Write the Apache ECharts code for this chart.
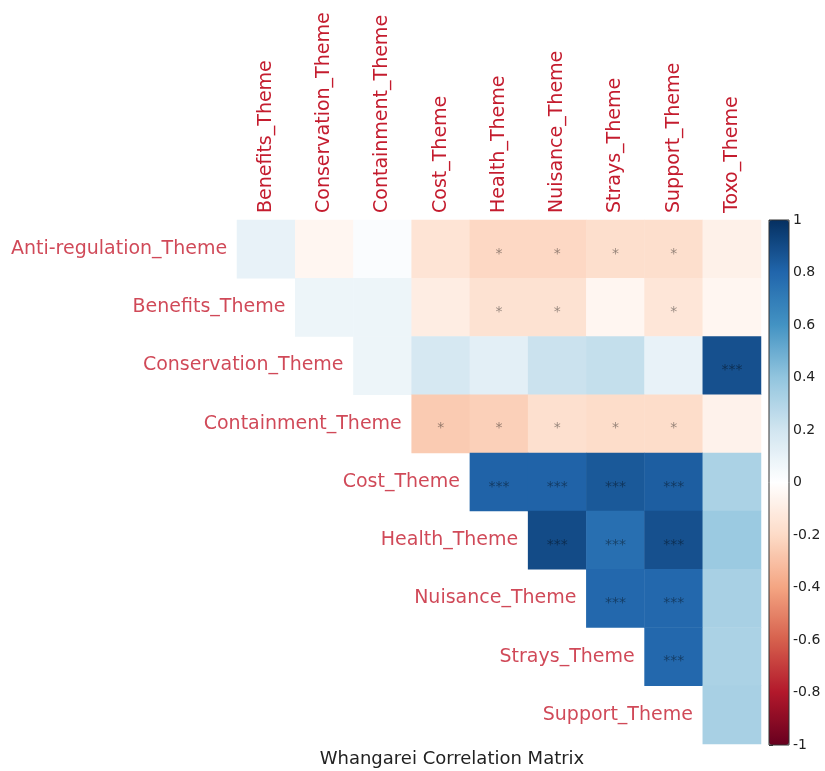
<!DOCTYPE html>
<html>
<head>
<meta charset="utf-8">
<title>Whangarei Correlation Matrix</title>
<script src="https://cdn.jsdelivr.net/npm/echarts@6/dist/echarts.min.js"></script>
<style>
  html, body { margin: 0; padding: 0; background: #fff; }
  #chart { width: 825px; height: 771px; }
</style>
</head>
<body>
<div id="chart"></div>
<script>
// Column variables (upper triangle, diagonal omitted)
const colNames = ['Benefits_Theme', 'Conservation_Theme', 'Containment_Theme', 'Cost_Theme',
  'Health_Theme', 'Nuisance_Theme', 'Strays_Theme', 'Support_Theme', 'Toxo_Theme'];
// Row variables
const rowNames = ['Anti-regulation_Theme', 'Benefits_Theme', 'Conservation_Theme', 'Containment_Theme',
  'Cost_Theme', 'Health_Theme', 'Nuisance_Theme', 'Strays_Theme', 'Support_Theme'];

// Correlations per row, starting at the row's own column position (row i starts at column i)
const corrAntiRegulation = [0.10, -0.05, 0.02, -0.15, -0.21, -0.21, -0.18, -0.18, -0.08];
const corrBenefits       = [0.08, 0.08, -0.10, -0.16, -0.16, -0.05, -0.14, -0.05];
const corrConservation   = [0.08, 0.18, 0.12, 0.22, 0.24, 0.10, 0.88];
const corrContainment    = [-0.26, -0.24, -0.17, -0.19, -0.19, -0.07];
const corrCost           = [0.81, 0.81, 0.85, 0.83, 0.32];
const corrHealth         = [0.90, 0.76, 0.88, 0.37];
const corrNuisance       = [0.79, 0.79, 0.33];
const corrStrays         = [0.79, 0.32];
const corrSupport        = [0.33];

// Significance stars, same layout as the correlations
const sigAntiRegulation = ['', '', '', '', '*', '*', '*', '*', ''];
const sigBenefits       = ['', '', '', '*', '*', '', '*', ''];
const sigConservation   = ['', '', '', '', '', '', '***'];
const sigContainment    = ['*', '*', '*', '*', '*', ''];
const sigCost           = ['***', '***', '***', '***', ''];
const sigHealth         = ['***', '***', '***', ''];
const sigNuisance       = ['***', '***', ''];
const sigStrays         = ['***', ''];
const sigSupport        = [''];

// Colour bar tick labels
const barTicks = [-1, -0.8, -0.6, -0.4, -0.2, 0, 0.2, 0.4, 0.6, 0.8, 1];

const corrRows = [corrAntiRegulation, corrBenefits, corrConservation, corrContainment,
  corrCost, corrHealth, corrNuisance, corrStrays, corrSupport];
const sigRows = [sigAntiRegulation, sigBenefits, sigConservation, sigContainment,
  sigCost, sigHealth, sigNuisance, sigStrays, sigSupport];

const cells = [];
corrRows.forEach(function (vals, r) {
  vals.forEach(function (v, k) {
    cells.push([r + k, r, v, sigRows[r][k]]);
  });
});
const rowLabelPoints = rowNames.map(function (name, r) { return [r, r, name]; });

const FONT = 'DejaVu Sans';
const LABEL_RED = '#c41c2e';
const RDBU = ['#67001F', '#B2182B', '#D6604D', '#F4A582', '#FDDBC7', '#FFFFFF',
  '#D1E5F0', '#92C5DE', '#4393C3', '#2166AC', '#053061'];

const chart = echarts.init(document.getElementById('chart'), null, { renderer: 'canvas' });
chart.setOption({
  backgroundColor: '#ffffff',
  animation: false,
  title: {
    text: 'Whangarei Correlation Matrix',
    left: 447, top: 745, textAlign: 'center',
    textStyle: { fontFamily: FONT, fontSize: 18, fontWeight: 'normal', color: '#222' }
  },
  grid: [
    { left: 237, top: 220, width: 524, height: 524, containLabel: false },
    { left: 769, top: 220, width: 20, height: 525, show: true, z: 10,
      backgroundColor: 'transparent', borderColor: '#333', borderWidth: 1 }
  ],
  xAxis: [
    { type: 'category', gridIndex: 0, data: colNames, position: 'top',
      axisLine: { show: false }, axisTick: { show: false }, splitLine: { show: false },
      axisLabel: { rotate: -90, margin: 7, interval: 0, fontFamily: FONT, fontSize: 19, color: LABEL_RED } },
    { type: 'value', gridIndex: 1, show: false, min: 0, max: 1 }
  ],
  yAxis: [
    { type: 'category', gridIndex: 0, data: rowNames, inverse: true,
      axisLine: { show: false }, axisTick: { show: false }, axisLabel: { show: false },
      splitLine: { show: false } },
    { type: 'value', gridIndex: 1, position: 'right', min: -1, max: 1, interval: 0.2,
      axisLine: { show: false }, splitLine: { show: false },
      axisTick: { show: true, length: 4, lineStyle: { color: '#333' } },
      axisLabel: { margin: 4, fontFamily: FONT, fontSize: 14, color: '#222',
        customValues: barTicks,
        formatter: function (v) { return String(Math.round(v * 10) / 10); } } }
  ],
  visualMap: {
    type: 'continuous', seriesIndex: 0, dimension: 2,
    min: -1, max: 1, calculable: false, realtime: false,
    orient: 'vertical', left: 769, top: 220, padding: 0,
    itemWidth: 20, itemHeight: 525, text: null, showLabel: false,
    inRange: { color: RDBU }
  },
  series: [
    {
      type: 'heatmap', xAxisIndex: 0, yAxisIndex: 0, data: cells,
      emphasis: { disabled: true },
      label: {
        show: true, fontFamily: FONT, fontSize: 14, color: 'rgba(0,0,0,0.42)',
        offset: [0, 5],
        formatter: function (p) { return p.data[3]; }
      }
    },
    {
      type: 'scatter', xAxisIndex: 0, yAxisIndex: 0, data: rowLabelPoints,
      symbolSize: 0, silent: true,
      label: {
        show: true, position: 'left', distance: 39, fontFamily: FONT, fontSize: 19,
        color: LABEL_RED, formatter: function (p) { return p.data[2]; }
      }
    }
  ]
});
</script>
</body>
</html>
